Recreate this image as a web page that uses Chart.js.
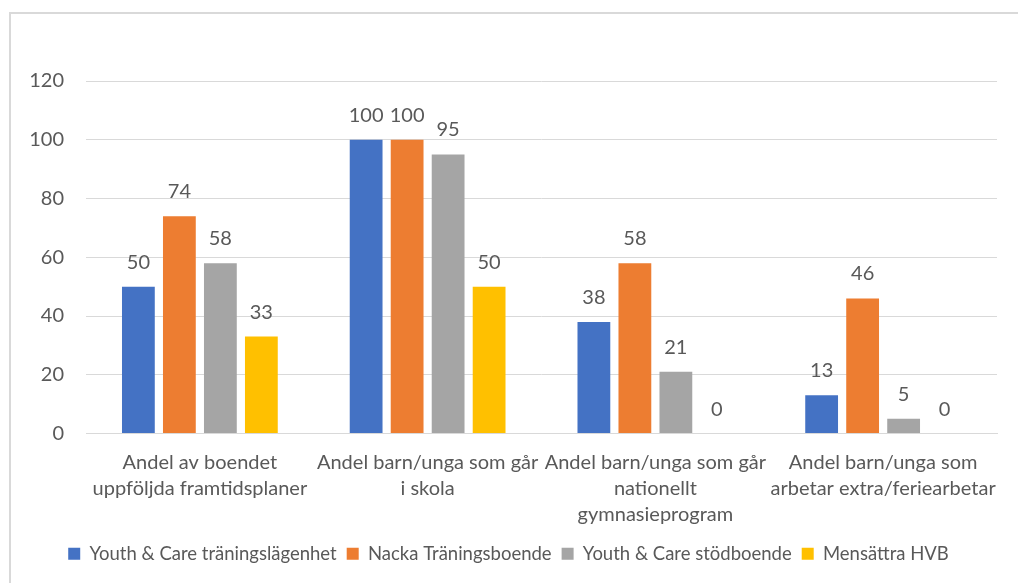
<!DOCTYPE html>
<html><head><meta charset="utf-8">
<script src="https://cdn.jsdelivr.net/npm/chart.js@4"></script>
<style>html,body{margin:0;padding:0;background:#fff}#wrap{width:1018px;height:583px;position:relative}</style>
</head><body><div id="wrap"><canvas id="c" width="1018" height="583"></canvas></div>
<script>
const categories = [
  ["Andel av boendet", "uppföljda framtidsplaner"],
  ["Andel barn/unga som går", "i skola"],
  ["Andel barn/unga som går", "nationellt", "gymnasieprogram"],
  ["Andel barn/unga som", "arbetar extra/feriearbetar"]
];
const seriesNames = ["Youth & Care träningslägenhet", "Nacka Träningsboende", "Youth & Care stödboende", "Mensättra HVB"];
const youthCareTraning = [50, 100, 38, 13];
const nackaTraning = [74, 100, 58, 46];
const youthCareStod = [58, 95, 21, 5];
const mensattraHVB = [33, 50, 0, 0];
const colors = ["#4472C4", "#ED7D31", "#A5A5A5", "#FFC000"];
const yTicks = [0, 20, 40, 60, 80, 100, 120];

const FONT = "Lato";
const frame = {
  id: 'frame',
  beforeDraw(chart) {
    const ctx = chart.ctx;
    ctx.save();
    ctx.fillStyle = '#fff';
    ctx.fillRect(0, 0, chart.width, chart.height);
    ctx.strokeStyle = '#D9D9D9';
    ctx.lineWidth = 2;
    ctx.strokeRect(10, 13, 1030, 600);
    ctx.restore();
  }
};
const valueLabels = {
  id: 'valueLabels',
  afterDatasetsDraw(chart) {
    const ctx = chart.ctx;
    ctx.save();
    ctx.font = "20px " + FONT;
    ctx.fillStyle = '#595959';
    ctx.textAlign = 'center';
    ctx.textBaseline = 'alphabetic';
    chart.data.datasets.forEach((ds, i) => {
      chart.getDatasetMeta(i).data.forEach((bar, j) => {
        ctx.fillText(String(ds.data[j]), bar.x, bar.y - 18);
      });
    });
    ctx.restore();
  }
};

const data = [youthCareTraning, nackaTraning, youthCareStod, mensattraHVB];
new Chart(document.getElementById('c'), {
  type: 'bar',
  data: {
    labels: categories,
    datasets: seriesNames.map((n, i) => ({
      label: n, data: data[i], backgroundColor: colors[i],
      categoryPercentage: 0.72, barPercentage: 0.8
    }))
  },
  options: {
    responsive: false,
    animation: false,
    layout: { padding: { left: 20, right: 21, top: 81, bottom: 10 } },
    plugins: {
      tooltip: { enabled: false },
      legend: {
        position: 'bottom',
        labels: { font: { family: FONT, size: 18.5 }, color: '#595959', boxWidth: 12, boxHeight: 12, padding: 10 }
      }
    },
    scales: {
      x: {
        grid: { display: false },
        border: { display: true, color: '#D9D9D9', width: 1 },
        ticks: { font: { family: FONT, size: 20, lineHeight: 1.3 }, color: '#595959', maxRotation: 0, autoSkip: false, padding: 8 },
        afterFit(s) { s.height = 101; }
      },
      y: {
        min: 0, max: 120,
        afterBuildTicks(s) { s.ticks = yTicks.map(v => ({ value: v })); },
        grid: { color: '#D9D9D9', lineWidth: 1, drawTicks: false },
        border: { display: false },
        ticks: { font: { family: FONT, size: 20 }, color: '#595959', padding: 22 },
        afterFit(s) { s.width = 66; }
      }
    }
  },
  plugins: [frame, valueLabels]
});
</script></body></html>
